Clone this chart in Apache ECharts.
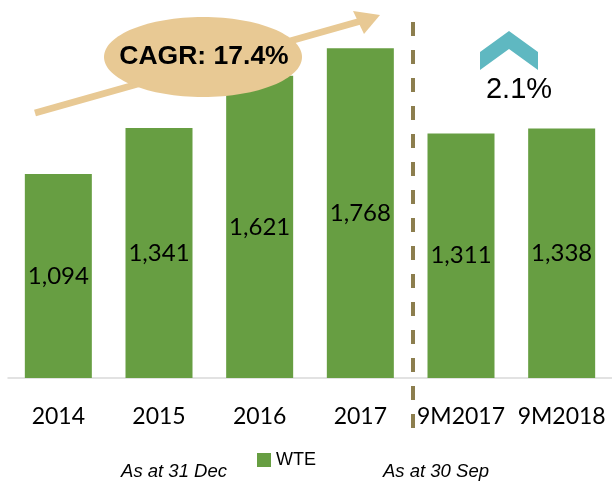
<!DOCTYPE html>
<html>
<head>
<meta charset="utf-8">
<script src="https://cdn.jsdelivr.net/npm/echarts@6/dist/echarts.min.js"></script>
<style>
  html, body { margin: 0; padding: 0; background: #fff; }
  #chart { width: 612px; height: 481px; }
</style>
</head>
<body>
<div id="chart"></div>
<script>
// data
const categories = ['2014', '2015', '2016', '2017', '9M2017', '9M2018'];
const wteValues = [1094, 1341, 1621, 1768, 1311, 1338];
const seriesName = 'WTE';
const cagrText = 'CAGR: 17.4%';
const growthText = '2.1%';
const periodLabels = ['As at 31 Dec', 'As at 30 Sep'];

const green = '#679E42';
const tan = '#E8C994';

let myChart = echarts.init(document.getElementById('chart'));
myChart.setOption({
    animation: false,
    grid: { left: 8, right: 0, top: 5, bottom: 103 },
    legend: {
        data: [seriesName],
        left: 252,
        top: 446,
        itemWidth: 14,
        itemHeight: 14,
        icon: 'rect',
        textStyle: { fontFamily: 'Liberation Sans', fontSize: 18, color: '#000' }
    },
    xAxis: {
        type: 'category',
        data: categories,
        axisLine: { lineStyle: { color: '#d9d9d9', width: 1.5 } },
        axisTick: { show: false },
        axisLabel: {
            interval: 0,
            margin: 27,
            fontFamily: 'Lato',
            fontSize: 23,
            color: '#000'
        }
    },
    yAxis: {
        type: 'value',
        min: 0,
        max: 2000,
        show: false,
        splitLine: { show: false }
    },
    series: [{
        name: seriesName,
        type: 'bar',
        data: wteValues,
        barWidth: 67,
        itemStyle: { color: green },
        label: {
            show: true,
            position: 'inside',
            fontFamily: 'Lato',
            fontSize: 24,
            color: '#000',
            formatter: (p) => p.value.toLocaleString('en-US')
        }
    }],
    graphic: [
        // divider between full years and 9M
        {
            type: 'line',
            shape: { x1: 413, y1: 22, x2: 413, y2: 436 },
            style: { stroke: '#8C7E4E', lineWidth: 4, lineDash: [14, 14] },
            z: 10
        },
        // growth arrow
        {
            type: 'line',
            shape: { x1: 35, y1: 113, x2: 368, y2: 19 },
            style: { stroke: tan, lineWidth: 7 },
            z: 10
        },
        {
            type: 'polygon',
            shape: { points: [[380, 15], [353, 11], [364, 34]] },
            style: { fill: tan },
            z: 10
        },
        {
            type: 'ellipse',
            shape: { cx: 203, cy: 57, rx: 99, ry: 40 },
            style: { fill: tan },
            z: 11
        },
        {
            type: 'text',
            x: 204, y: 57,
            style: {
                text: cagrText,
                fontFamily: 'Liberation Sans',
                fontWeight: 'bold',
                fontSize: 26.5,
                fill: '#000',
                align: 'center',
                verticalAlign: 'middle'
            },
            z: 12
        },
        // chevron
        {
            type: 'polygon',
            shape: { points: [[480, 52], [509, 31], [538, 52], [538, 70], [509, 49], [480, 70]] },
            style: { fill: '#5FB8C1' },
            z: 10
        },
        {
            type: 'text',
            x: 519, y: 90,
            style: {
                text: growthText,
                fontFamily: 'Liberation Sans',
                fontSize: 29,
                fill: '#000',
                align: 'center',
                verticalAlign: 'middle'
            },
            z: 10
        },
        {
            type: 'text',
            x: 174, y: 472,
            style: {
                text: periodLabels[0],
                fontFamily: 'Liberation Sans',
                fontStyle: 'italic',
                fontSize: 18.5,
                fill: '#000',
                align: 'center',
                verticalAlign: 'middle'
            }
        },
        {
            type: 'text',
            x: 436, y: 472,
            style: {
                text: periodLabels[1],
                fontFamily: 'Liberation Sans',
                fontStyle: 'italic',
                fontSize: 18.5,
                fill: '#000',
                align: 'center',
                verticalAlign: 'middle'
            }
        }
    ]
});
</script>
</body>
</html>
